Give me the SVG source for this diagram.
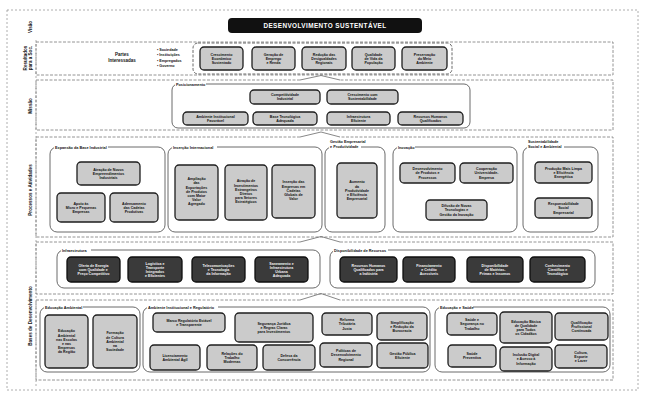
<svg xmlns="http://www.w3.org/2000/svg" width="651" height="393" viewBox="0 0 651 393">
<style>
  .frame{fill:none;stroke:#9a9a9a;stroke-width:0.8;stroke-dasharray:2 2}
  .row{fill:none;stroke:#7a7a7a;stroke-width:0.8;stroke-dasharray:3 1.5}
  .grp{fill:none;stroke:#5a5a5a;stroke-width:0.9}
  .bx{fill:#cbcbcb;stroke:#1e1e1e;stroke-width:1.3}
  .dk{fill:#3a3a3a;stroke:#0e0e0e;stroke-width:1.3}
  .chev{fill:none;stroke:#6a6a6a;stroke-width:0.8}
  .lblbg{fill:#fff}
  text{font-family:"Liberation Sans",Arial,sans-serif;font-weight:bold;fill:#111}
  .t{font-size:3.6px;text-anchor:middle}
  .tw{fill:#f2f2f2}
  .gl{font-size:3.8px}
  .side{font-size:4.6px;text-anchor:middle}
</style>

<!-- page frame and side column -->
<rect class="frame" x="7" y="10" width="631" height="380"/>
<line class="frame" x1="36" y1="40" x2="36" y2="386"/>

<!-- side captions -->
<g id="side-labels">
  <text class="side" transform="translate(32,27) rotate(-90)">Visão</text>
  <text class="side" transform="translate(27,58) rotate(-90)"><tspan x="0" dy="0">Resultados</tspan><tspan x="0" dy="5">para a Soc.</tspan></text>
  <text class="side" transform="translate(32,106) rotate(-90)">Missão</text>
  <text class="side" transform="translate(32,190) rotate(-90)">Processos e Atividades</text>
  <text class="side" transform="translate(32,316) rotate(-90)">Bases de Desenvolvimento</text>
</g>

<!-- row frames (top edges leave room for the chevrons) -->
<g id="rows">
  <rect class="row" x="36" y="42" width="577" height="33"/>
  <path class="row" d="M300,80 H36 V130 H613 V80 H340"/>
  <path class="row" d="M300,137 H36 V237 H613 V137 H340"/>
  <path class="row" d="M300,242 H36 V294 H613 V242 H340"/>
  <path class="row" d="M300,300 H36 V380 H613 V300 H340"/>
</g>

<!-- chevrons linking each row to the one above -->
<g id="connectors">
  <path class="chev" d="M300,80 L321,75.5 L340,80"/>
  <path class="chev" d="M300,137 L321,132 L340,137"/>
  <path class="chev" d="M300,242 L321,236.5 L340,242"/>
  <path class="chev" d="M300,300 L321,293.5 L340,300"/>
</g>

<!-- vision -->
<g id="visao">
  <rect x="228" y="18" width="194" height="15" rx="4" fill="#111"/>
  <text x="325" y="28.3" font-size="6.4" text-anchor="middle" letter-spacing="0.4" style="fill:#fff">DESENVOLVIMENTO SUSTENTÁVEL</text>
</g>

<!-- results for society -->
<g id="partes">
  <text x="122" y="56" font-size="4.5" text-anchor="middle">Partes</text>
  <text x="122" y="62" font-size="4.5" text-anchor="middle">Interessadas</text>
  <text x="157" y="51" font-size="3.7">• Sociedade</text>
  <text x="157" y="56.3" font-size="3.7">• Instituições</text>
  <text x="157" y="61.6" font-size="3.7">• Empregados</text>
  <text x="157" y="66.9" font-size="3.7">• Governo</text>
</g>
<g id="resultados">
  <rect class="grp" x="193" y="43" width="259" height="31" rx="5" stroke-dasharray="3 1.5"/>
  <rect class="bx" x="200" y="47" width="43" height="23" rx="4"/>
  <text class="t" x="221.5" y="55.6"><tspan x="221.5">Crescimento</tspan><tspan x="221.5" dy="4.2">Econômico</tspan><tspan x="221.5" dy="4.2">Sustentado</tspan></text>
  <rect class="bx" x="252" y="47" width="43" height="23" rx="4"/>
  <text class="t" x="273.5" y="55.6"><tspan x="273.5">Geração de</tspan><tspan x="273.5" dy="4.2">Emprego</tspan><tspan x="273.5" dy="4.2">e Renda</tspan></text>
  <rect class="bx" x="302" y="47" width="44" height="23" rx="4"/>
  <text class="t" x="324" y="55.6"><tspan x="324">Redução das</tspan><tspan x="324" dy="4.2">Desigualdades</tspan><tspan x="324" dy="4.2">Regionais</tspan></text>
  <rect class="bx" x="352" y="47" width="43" height="23" rx="4"/>
  <text class="t" x="373.5" y="55.6"><tspan x="373.5">Qualidade</tspan><tspan x="373.5" dy="4.2">de Vida da</tspan><tspan x="373.5" dy="4.2">População</tspan></text>
  <rect class="bx" x="402" y="47" width="45" height="23" rx="4"/>
  <text class="t" x="424.5" y="55.6"><tspan x="424.5">Preservação</tspan><tspan x="424.5" dy="4.2">do Meio</tspan><tspan x="424.5" dy="4.2">Ambiente</tspan></text>
</g>

<!-- mission -->
<g id="missao">
  <rect class="grp" x="172" y="84" width="298" height="44" rx="6"/>
  <rect class="lblbg" x="175" y="82" width="31" height="4"/>
  <text class="gl" x="176" y="85.6">Posicionamento</text>
  <rect class="bx" x="250" y="90" width="70" height="14" rx="4"/>
  <text class="t" x="285" y="96.2"><tspan x="285">Competitividade</tspan><tspan x="285" dy="4.2">Industrial</tspan></text>
  <rect class="bx" x="327" y="90" width="71" height="14" rx="4"/>
  <text class="t" x="362.5" y="96.2"><tspan x="362.5">Crescimento com</tspan><tspan x="362.5" dy="4.2">Sustentabilidade</tspan></text>
  <rect class="bx" x="183" y="112" width="65" height="13" rx="4"/>
  <text class="t" x="215.5" y="117.7"><tspan x="215.5">Ambiente Institucional</tspan><tspan x="215.5" dy="4.2">Favorável</tspan></text>
  <rect class="bx" x="253" y="112" width="64" height="13" rx="4"/>
  <text class="t" x="285" y="117.7"><tspan x="285">Base Tecnológica</tspan><tspan x="285" dy="4.2">Adequada</tspan></text>
  <rect class="bx" x="327" y="112" width="63" height="13" rx="4"/>
  <text class="t" x="358.5" y="117.7"><tspan x="358.5">Infraestrutura</tspan><tspan x="358.5" dy="4.2">Eficiente</tspan></text>
  <rect class="bx" x="398" y="112" width="65" height="13" rx="4"/>
  <text class="t" x="430.5" y="117.7"><tspan x="430.5">Recursos Humanos</tspan><tspan x="430.5" dy="4.2">Qualificados</tspan></text>
</g>

<!-- processes and activities -->
<g id="expansao">
  <rect class="grp" x="50" y="147" width="115" height="85" rx="7"/>
  <rect class="lblbg" x="54" y="145" width="54" height="4"/>
  <text class="gl" x="55" y="148.6">Expansão da Base Industrial</text>
  <rect class="bx" x="77" y="162" width="63" height="23" rx="4"/>
  <text class="t" x="108.5" y="170.6"><tspan x="108.5">Atração de Novos</tspan><tspan x="108.5" dy="4.2">Empreendimentos</tspan><tspan x="108.5" dy="4.2">Industriais</tspan></text>
  <rect class="bx" x="57" y="193" width="48" height="29" rx="4"/>
  <text class="t" x="81" y="204.6"><tspan x="81">Apoio às</tspan><tspan x="81" dy="4.2">Micro e Pequenas</tspan><tspan x="81" dy="4.2">Empresas</tspan></text>
  <rect class="bx" x="110" y="193" width="48" height="29" rx="4"/>
  <text class="t" x="134" y="204.6"><tspan x="134">Adensamento</tspan><tspan x="134" dy="4.2">das Cadeias</tspan><tspan x="134" dy="4.2">Produtivas</tspan></text>
</g>
<g id="insercao">
  <rect class="grp" x="168" y="147" width="154" height="85" rx="7"/>
  <rect class="lblbg" x="172" y="145" width="45" height="4"/>
  <text class="gl" x="173" y="148.6">Inserção Internacional</text>
  <rect class="bx" x="175" y="165" width="43" height="55" rx="4"/>
  <text class="t" x="196.5" y="180.2"><tspan x="196.5">Ampliação</tspan><tspan x="196.5" dy="4.2">das</tspan><tspan x="196.5" dy="4.2">Exportações</tspan><tspan x="196.5" dy="4.2">de Produtos</tspan><tspan x="196.5" dy="4.2">com Maior</tspan><tspan x="196.5" dy="4.2">Valor</tspan><tspan x="196.5" dy="4.2">Agregado</tspan></text>
  <rect class="bx" x="225" y="165" width="42" height="55" rx="4"/>
  <text class="t" x="246" y="182.3"><tspan x="246">Atração de</tspan><tspan x="246" dy="4.2">Investimentos</tspan><tspan x="246" dy="4.2">Estrangeiros</tspan><tspan x="246" dy="4.2">Diretos</tspan><tspan x="246" dy="4.2">para Setores</tspan><tspan x="246" dy="4.2">Estratégicos</tspan></text>
  <rect class="bx" x="272" y="165" width="43" height="53" rx="4"/>
  <text class="t" x="293.5" y="183.4"><tspan x="293.5">Inserção das</tspan><tspan x="293.5" dy="4.2">Empresas em</tspan><tspan x="293.5" dy="4.2">Cadeias</tspan><tspan x="293.5" dy="4.2">Globais de</tspan><tspan x="293.5" dy="4.2">Valor</tspan></text>
</g>
<g id="gestao">
  <rect class="grp" x="325" y="147" width="60" height="85" rx="7"/>
  <text class="gl" x="330" y="142.5">Gestão Empresarial</text>
  <rect class="lblbg" x="329" y="145" width="32" height="4"/>
  <text class="gl" x="330" y="148.3">e Produtividade</text>
  <rect class="bx" x="337" y="163" width="40" height="55" rx="4"/>
  <text class="t" x="357" y="183.4"><tspan x="357">Aumento</tspan><tspan x="357" dy="4.2">da</tspan><tspan x="357" dy="4.2">Produtividade</tspan><tspan x="357" dy="4.2">e Eficiência</tspan><tspan x="357" dy="4.2">Empresarial</tspan></text>
</g>
<g id="inovacao">
  <rect class="grp" x="393" y="147" width="124" height="85" rx="7"/>
  <rect class="lblbg" x="397" y="145" width="18" height="4"/>
  <text class="gl" x="398" y="148.6">Inovação</text>
  <rect class="bx" x="400" y="163" width="55" height="20" rx="4"/>
  <text class="t" x="427.5" y="170.1"><tspan x="427.5">Desenvolvimento</tspan><tspan x="427.5" dy="4.2">de Produtos e</tspan><tspan x="427.5" dy="4.2">Processos</tspan></text>
  <rect class="bx" x="460" y="163" width="53" height="20" rx="4"/>
  <text class="t" x="486.5" y="170.1"><tspan x="486.5">Cooperação</tspan><tspan x="486.5" dy="4.2">Universidade-</tspan><tspan x="486.5" dy="4.2">Empresa</tspan></text>
  <rect class="bx" x="426" y="200" width="61" height="20" rx="4"/>
  <text class="t" x="456.5" y="207.1"><tspan x="456.5">Difusão de Novas</tspan><tspan x="456.5" dy="4.2">Tecnologias e</tspan><tspan x="456.5" dy="4.2">Gestão da Inovação</tspan></text>
</g>
<g id="sustentabilidade">
  <rect class="grp" x="523" y="147" width="75" height="85" rx="7"/>
  <text class="gl" x="528" y="142.5">Sustentabilidade</text>
  <rect class="lblbg" x="527" y="145" width="37" height="4"/>
  <text class="gl" x="528" y="148.3">Social e Ambiental</text>
  <rect class="bx" x="535" y="162" width="57" height="21" rx="4"/>
  <text class="t" x="563.5" y="169.6"><tspan x="563.5">Produção Mais Limpa</tspan><tspan x="563.5" dy="4.2">e Eficiência</tspan><tspan x="563.5" dy="4.2">Energética</tspan></text>
  <rect class="bx" x="535" y="198" width="57" height="20" rx="4"/>
  <text class="t" x="563.5" y="205.1"><tspan x="563.5">Responsabilidade</tspan><tspan x="563.5" dy="4.2">Social</tspan><tspan x="563.5" dy="4.2">Empresarial</tspan></text>
</g>

<!-- infrastructure and resources -->
<g id="infraestrutura">
  <rect class="grp" x="57" y="250" width="263" height="38" rx="7"/>
  <rect class="lblbg" x="61" y="248" width="30" height="4"/>
  <text class="gl" x="62" y="251.6">Infraestrutura</text>
  <rect class="dk" x="67" y="257" width="53" height="25" rx="4"/>
  <text class="t tw" x="93.5" y="266.6"><tspan x="93.5">Oferta de Energia</tspan><tspan x="93.5" dy="4.2">com Qualidade e</tspan><tspan x="93.5" dy="4.2">Preço Competitivo</tspan></text>
  <rect class="dk" x="128" y="257" width="54" height="25" rx="4"/>
  <text class="t tw" x="155" y="264.5"><tspan x="155">Logística e</tspan><tspan x="155" dy="4.2">Transporte</tspan><tspan x="155" dy="4.2">Integrados</tspan><tspan x="155" dy="4.2">e Eficientes</tspan></text>
  <rect class="dk" x="192" y="257" width="53" height="25" rx="4"/>
  <text class="t tw" x="218.5" y="266.6"><tspan x="218.5">Telecomunicações</tspan><tspan x="218.5" dy="4.2">e Tecnologia</tspan><tspan x="218.5" dy="4.2">da Informação</tspan></text>
  <rect class="dk" x="255" y="257" width="53" height="25" rx="4"/>
  <text class="t tw" x="281.5" y="264.5"><tspan x="281.5">Saneamento e</tspan><tspan x="281.5" dy="4.2">Infraestrutura</tspan><tspan x="281.5" dy="4.2">Urbana</tspan><tspan x="281.5" dy="4.2">Adequada</tspan></text>
</g>
<g id="recursos">
  <rect class="grp" x="330" y="250" width="265" height="38" rx="7"/>
  <rect class="lblbg" x="333" y="248" width="55" height="4"/>
  <text class="gl" x="334" y="251.6">Disponibilidade de Recursos</text>
  <rect class="dk" x="340" y="257" width="57" height="25" rx="4"/>
  <text class="t tw" x="368.5" y="266.6"><tspan x="368.5">Recursos Humanos</tspan><tspan x="368.5" dy="4.2">Qualificados para</tspan><tspan x="368.5" dy="4.2">a Indústria</tspan></text>
  <rect class="dk" x="403" y="257" width="52" height="25" rx="4"/>
  <text class="t tw" x="429" y="266.6"><tspan x="429">Financiamento</tspan><tspan x="429" dy="4.2">e Crédito</tspan><tspan x="429" dy="4.2">Acessíveis</tspan></text>
  <rect class="dk" x="467" y="257" width="56" height="25" rx="4"/>
  <text class="t tw" x="495" y="266.6"><tspan x="495">Disponibilidade</tspan><tspan x="495" dy="4.2">de Matérias-</tspan><tspan x="495" dy="4.2">Primas e Insumos</tspan></text>
  <rect class="dk" x="530" y="257" width="55" height="25" rx="4"/>
  <text class="t tw" x="557.5" y="266.6"><tspan x="557.5">Conhecimento</tspan><tspan x="557.5" dy="4.2">Científico e</tspan><tspan x="557.5" dy="4.2">Tecnológico</tspan></text>
</g>

<!-- development bases -->
<g id="educacao-ambiental">
  <rect class="grp" x="40" y="307" width="100" height="65" rx="7"/>
  <rect class="lblbg" x="44" y="305" width="39" height="4"/>
  <text class="gl" x="45" y="308.6">Educação Ambiental</text>
  <rect class="bx" x="45" y="315" width="43" height="53" rx="4"/>
  <text class="t" x="66.5" y="332.3"><tspan x="66.5">Educação</tspan><tspan x="66.5" dy="4.2">Ambiental</tspan><tspan x="66.5" dy="4.2">nas Escolas</tspan><tspan x="66.5" dy="4.2">e nas</tspan><tspan x="66.5" dy="4.2">Empresas</tspan><tspan x="66.5" dy="4.2">da Região</tspan></text>
  <rect class="bx" x="93" y="315" width="44" height="53" rx="4"/>
  <text class="t" x="115" y="334.4"><tspan x="115">Formação</tspan><tspan x="115" dy="4.2">de Cultura</tspan><tspan x="115" dy="4.2">Ambiental</tspan><tspan x="115" dy="4.2">na</tspan><tspan x="115" dy="4.2">Sociedade</tspan></text>
</g>
<g id="ambiente-institucional">
  <rect class="grp" x="143" y="307" width="287" height="65" rx="7"/>
  <rect class="lblbg" x="147" y="305" width="71" height="4"/>
  <text class="gl" x="148" y="308.6">Ambiente Institucional e Regulatório</text>
  <rect class="bx" x="153" y="313" width="72" height="19" rx="4"/>
  <text class="t" x="189" y="321.7"><tspan x="189">Marco Regulatório Estável</tspan><tspan x="189" dy="4.2">e Transparente</tspan></text>
  <rect class="bx" x="235" y="313" width="78" height="29" rx="4"/>
  <text class="t" x="274" y="324.6"><tspan x="274">Segurança Jurídica</tspan><tspan x="274" dy="4.2">e Regras Claras</tspan><tspan x="274" dy="4.2">para Investimentos</tspan></text>
  <rect class="bx" x="322" y="313" width="50" height="22" rx="4"/>
  <text class="t" x="347" y="321.1"><tspan x="347">Reforma</tspan><tspan x="347" dy="4.2">Tributária</tspan><tspan x="347" dy="4.2">Justa</tspan></text>
  <rect class="bx" x="377" y="313" width="50" height="27" rx="4"/>
  <text class="t" x="402" y="323.6"><tspan x="402">Simplificação</tspan><tspan x="402" dy="4.2">e Redução da</tspan><tspan x="402" dy="4.2">Burocracia</tspan></text>
  <rect class="bx" x="150" y="345" width="50" height="25" rx="4"/>
  <text class="t" x="175" y="356.7"><tspan x="175">Licenciamento</tspan><tspan x="175" dy="4.2">Ambiental Ágil</tspan></text>
  <rect class="bx" x="207" y="345" width="50" height="25" rx="4"/>
  <text class="t" x="232" y="354.6"><tspan x="232">Relações do</tspan><tspan x="232" dy="4.2">Trabalho</tspan><tspan x="232" dy="4.2">Modernas</tspan></text>
  <rect class="bx" x="263" y="345" width="52" height="25" rx="4"/>
  <text class="t" x="289" y="356.7"><tspan x="289">Defesa da</tspan><tspan x="289" dy="4.2">Concorrência</tspan></text>
  <rect class="bx" x="320" y="343" width="52" height="24" rx="4"/>
  <text class="t" x="346" y="352.1"><tspan x="346">Políticas de</tspan><tspan x="346" dy="4.2">Desenvolvimento</tspan><tspan x="346" dy="4.2">Regional</tspan></text>
  <rect class="bx" x="377" y="343" width="51" height="25" rx="4"/>
  <text class="t" x="402.5" y="354.7"><tspan x="402.5">Gestão Pública</tspan><tspan x="402.5" dy="4.2">Eficiente</tspan></text>
</g>
<g id="educacao-saude">
  <rect class="grp" x="435" y="307" width="175" height="65" rx="7"/>
  <rect class="lblbg" x="439" y="305" width="34" height="4"/>
  <text class="gl" x="440" y="308.6">Educação e Saúde</text>
  <rect class="bx" x="447" y="313" width="50" height="22" rx="4"/>
  <text class="t" x="472" y="321.1"><tspan x="472">Saúde e</tspan><tspan x="472" dy="4.2">Segurança no</tspan><tspan x="472" dy="4.2">Trabalho</tspan></text>
  <rect class="bx" x="500" y="312" width="52" height="31" rx="4"/>
  <text class="t" x="526" y="322.5"><tspan x="526">Educação Básica</tspan><tspan x="526" dy="4.2">de Qualidade</tspan><tspan x="526" dy="4.2">para Todos</tspan><tspan x="526" dy="4.2">os Cidadãos</tspan></text>
  <rect class="bx" x="555" y="313" width="53" height="27" rx="4"/>
  <text class="t" x="581.5" y="323.6"><tspan x="581.5">Qualificação</tspan><tspan x="581.5" dy="4.2">Profissional</tspan><tspan x="581.5" dy="4.2">Continuada</tspan></text>
  <rect class="bx" x="448" y="345" width="48" height="22" rx="4"/>
  <text class="t" x="472" y="355.2"><tspan x="472">Saúde</tspan><tspan x="472" dy="4.2">Preventiva</tspan></text>
  <rect class="bx" x="500" y="347" width="52" height="24" rx="4"/>
  <text class="t" x="526" y="356.1"><tspan x="526">Inclusão Digital</tspan><tspan x="526" dy="4.2">e Acesso à</tspan><tspan x="526" dy="4.2">Informação</tspan></text>
  <rect class="bx" x="555" y="345" width="52" height="23" rx="4"/>
  <text class="t" x="581" y="353.6"><tspan x="581">Cultura,</tspan><tspan x="581" dy="4.2">Esporte</tspan><tspan x="581" dy="4.2">e Lazer</tspan></text>
</g>
</svg>
